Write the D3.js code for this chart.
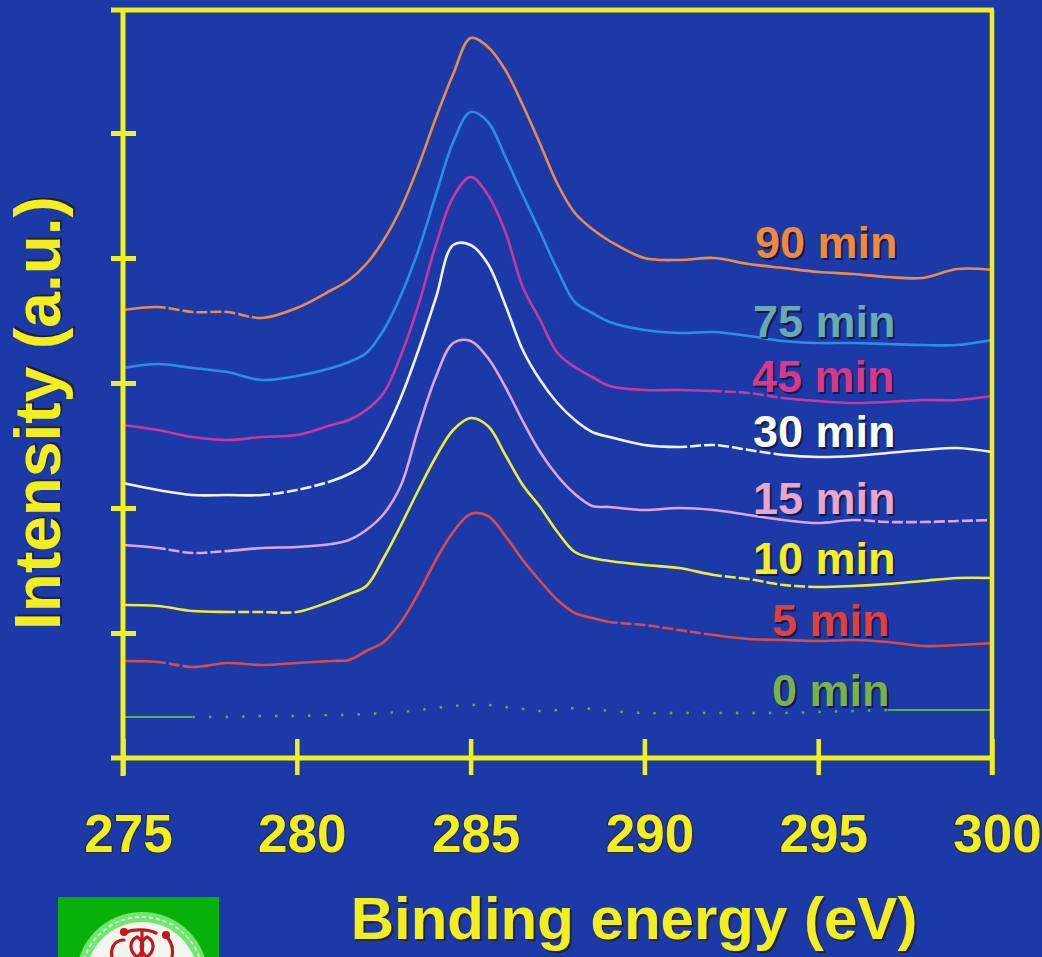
<!DOCTYPE html>
<html>
<head>
<meta charset="utf-8">
<script src="https://cdn.jsdelivr.net/npm/d3@7/dist/d3.min.js"></script>
<style>
  html, body { margin: 0; padding: 0; background: #1b3aa8; }
  svg { display: block; }
  text { font-family: "Liberation Sans", Arial, Helvetica, sans-serif; font-weight: bold; }
</style>
</head>
<body>
<svg id="chart" width="1042" height="957"></svg>
<script>
// C 1s spectra recorded after increasing treatment times (intensity in arbitrary units, stacked)
const energy = [275, 276, 277, 278, 279, 280, 281, 281.5, 282, 282.5, 283, 283.5, 284, 284.5,
  285, 285.5, 286, 286.5, 287, 287.5, 288, 288.5, 289, 290, 291, 292, 293, 294, 295, 296,
  297, 298, 299, 300];

const int0  = [41, 41, 41, 41, 42, 42, 43, 43, 44, 45, 46, 48, 50, 52, 53, 53, 51, 49, 47, 48,
  50, 49, 47, 45, 45, 45, 45, 45, 46, 47, 48, 48, 48, 48];
const int5  = [97, 96, 91, 95, 93, 95, 97, 98, 107, 116, 136, 165, 198, 226, 244, 242, 222, 198,
  177, 158, 145, 140, 136, 133, 128, 123, 119, 118, 117, 118, 116, 112, 113, 115];
const int10 = [153, 152, 147, 146, 146, 146, 157, 164, 172, 200, 233, 268, 301, 328, 340, 332,
  303, 273, 251, 226, 206, 200, 197, 193, 190, 183, 179, 173, 171, 172, 174, 177, 180, 180];
const int15 = [213, 210, 205, 207, 210, 211, 214, 218, 228, 244, 273, 330, 381, 415, 417, 400,
  371, 337, 306, 282, 264, 252, 251, 248, 250, 248, 243, 238, 235, 238, 236, 236, 237, 238];
const int30 = [275, 268, 263, 263, 263, 268, 277, 284, 295, 323, 361, 408, 460, 513, 513, 494,
  453, 408, 378, 355, 338, 326, 321, 313, 311, 313, 308, 303, 301, 302, 305, 308, 310, 306];
const int45 = [333, 328, 321, 318, 321, 323, 333, 338, 348, 365, 403, 453, 513, 561, 581, 563,
  526, 471, 438, 405, 391, 381, 372, 368, 368, 367, 365, 360, 357, 355, 356, 358, 358, 362];
const int75 = [390, 394, 390, 386, 378, 382, 390, 396, 405, 428, 463, 508, 563, 616, 646, 636,
  601, 563, 526, 488, 456, 445, 436, 428, 425, 426, 422, 417, 415, 415, 414, 413, 413, 418];
const int90 = [448, 451, 446, 446, 440, 450, 468, 478, 494, 518, 550, 592, 640, 684, 720, 711,
  688, 653, 614, 574, 545, 529, 517, 500, 498, 500, 494, 490, 486, 484, 481, 480, 489, 488];

const seriesNames = ["0 min", "5 min", "10 min", "15 min", "30 min", "45 min", "75 min", "90 min"];
const seriesValues = [int0, int5, int10, int15, int30, int45, int75, int90];

const xTicks = [275, 280, 285, 290, 295, 300];
const yTicks = [125, 250, 375, 500, 625];

// styling per series
const lineColors  = ["#5fae45", "#d84a4c", "#eeec3a", "#e2a2dc", "#f2f2fa", "#c9389e", "#2a8fe2", "#e98a4e"];
const labelColors = ["#7ab24a", "#e0403f", "#f4ef22", "#e8a6cc", "#ffffff", "#d6388c", "#6aa8b2", "#f08a3a"];
// label anchor: [left x, baseline y]
const labelPos = [[772, 706], [772, 636], [753, 574], [753, 514], [753, 447], [752, 392], [753, 337], [755, 258]];
// energy spans where a trace is drawn broken (short gaps)
const brokenSpans = [[], [[276, 277], [289, 292]], [[278, 280], [292, 295]], [[276, 278], [296, 300]],
  [[279, 281], [291, 294]], [[292, 294]], [], [[276, 279]]];

const BG = "#1b3aa8";
const YELLOW = "#f3ee1e";
const svg = d3.select("#chart");

const x = d3.scaleLinear().domain([275, 300]).range([123, 992]);
const y = d3.scaleLinear().domain([0, 748]).range([758, 10]);

// background
svg.append("rect").attr("width", 1042).attr("height", 957).attr("fill", BG);

// curves
const lineXY = d3.line()
  .x(d => x(d[0]))
  .y(d => y(d[1]))
  .curve(d3.curveCatmullRom.alpha(0.5));

const curves = svg.append("g").attr("fill", "none").attr("stroke-width", 2.6)
  .attr("stroke-linejoin", "round");

seriesValues.forEach((vals, k) => {
  const pts = vals.map((v, i) => [energy[i], v]);
  if (k === 0) {
    // the 0 min trace: solid at both ends, dotted through the middle
    const left = pts.filter(d => d[0] <= 277);
    const mid = pts.filter(d => d[0] >= 277 && d[0] <= 297);
    const right = pts.filter(d => d[0] >= 297);
    curves.append("path").attr("d", lineXY(left)).attr("stroke", lineColors[0]).attr("stroke-width", 2);
    curves.append("path").attr("d", lineXY(mid)).attr("stroke", lineColors[0]).attr("stroke-width", 2.4)
      .attr("stroke-dasharray", "2.5,14");
    curves.append("path").attr("d", lineXY(right)).attr("stroke", lineColors[0]).attr("stroke-width", 2);
  } else {
    curves.append("path").attr("d", lineXY(pts)).attr("stroke", lineColors[k]);
    // small gaps cut into the trace over its broken spans
    brokenSpans[k].forEach(([a, b]) => {
      const seg = pts.filter(d => d[0] >= a && d[0] <= b);
      curves.append("path").attr("d", lineXY(seg)).attr("stroke", BG).attr("stroke-width", 4)
        .attr("stroke-dasharray", "3,11").attr("stroke-dashoffset", -8);
    });
  }
});

// frame and axes
const frame = svg.append("g").attr("stroke", YELLOW).attr("stroke-linecap", "butt");
frame.append("line").attr("x1", 111).attr("x2", x(300) + 2).attr("y1", y(748)).attr("y2", y(748)).attr("stroke-width", 5);
frame.append("line").attr("x1", x(300)).attr("x2", x(300)).attr("y1", y(748)).attr("y2", 775).attr("stroke-width", 4.5);
frame.append("line").attr("x1", x(275)).attr("x2", x(275)).attr("y1", y(748) - 2).attr("y2", 776).attr("stroke-width", 5);
frame.append("line").attr("x1", 111).attr("x2", x(300)).attr("y1", y(0)).attr("y2", y(0)).attr("stroke-width", 5);

const xAxis = svg.append("g").attr("transform", `translate(0,${y(0)})`)
  .call(d3.axisBottom(x).tickValues(xTicks).tickSize(17).tickFormat(d3.format("d")));
xAxis.select(".domain").remove();
xAxis.selectAll(".tick line").attr("y1", -19).attr("stroke", YELLOW).attr("stroke-width", 4.5);
xAxis.selectAll(".tick text")
  .attr("y", 94).attr("dy", 0).attr("x", 5)
  .attr("fill", YELLOW).attr("font-size", 53)
  .style("paint-order", "stroke").attr("stroke", "rgba(40,30,20,0.55)").attr("stroke-width", 2.5);

const yAxis = svg.append("g").attr("transform", `translate(${x(275)},0)`)
  .call(d3.axisLeft(y).tickValues(yTicks).tickSize(12).tickFormat(""));
yAxis.select(".domain").remove();
yAxis.selectAll(".tick line").attr("x2", 13).attr("x1", -12).attr("stroke", YELLOW).attr("stroke-width", 5);

// series labels with a soft drop shadow
const labels = svg.append("g").attr("font-size", 45);
seriesNames.forEach((name, k) => {
  const [lx, ly] = labelPos[k];
  labels.append("text").attr("x", lx + 2).attr("y", ly + 2).attr("fill", "rgba(15,15,45,0.75)").text(name);
  labels.append("text").attr("x", lx).attr("y", ly).attr("fill", labelColors[k]).text(name);
});

// axis titles
function shadowText(g, txt, attrs) {
  const s = g.append("text").text(txt).attr("fill", "rgba(35,25,15,0.7)");
  const t = g.append("text").text(txt).attr("fill", YELLOW);
  Object.entries(attrs).forEach(([k, v]) => { s.attr(k, v); t.attr(k, v); });
  s.attr("dx", 2).attr("dy", 2);
  return t;
}
shadowText(svg.append("g"), "Binding energy (eV)", {
  x: 634, y: 939, "text-anchor": "middle", "font-size": 60
});
shadowText(svg.append("g").attr("transform", "translate(60,413) rotate(-90)"), "Intensity (a.u.)", {
  x: 0, y: 0, "text-anchor": "middle", "font-size": 64
});

// institute emblem, bottom left
const logo = svg.append("g");
logo.append("rect").attr("x", 58).attr("y", 897).attr("width", 161).attr("height", 70).attr("fill", "#07b10a");
logo.append("circle").attr("cx", 142).attr("cy", 978).attr("r", 66).attr("fill", "#6fe66f");
logo.append("circle").attr("cx", 142).attr("cy", 978).attr("r", 56).attr("fill", "#f3f6ee");
logo.append("circle").attr("cx", 142).attr("cy", 978).attr("r", 61).attr("fill", "none")
  .attr("stroke", "#d8f8d0").attr("stroke-width", 2).attr("stroke-dasharray", "4,3");
const emblem = logo.append("g").attr("fill", "none").attr("stroke", "#c0181c").attr("stroke-width", 3.2)
  .attr("stroke-linecap", "round");
emblem.append("path").attr("d", "M126,932 C134,929 148,929 156,933");
emblem.append("path").attr("d", "M137,957 C128,950 130,940 137,937 C143,940 146,950 137,957");
emblem.append("path").attr("d", "M147,957 C156,950 154,940 147,937 C141,940 138,950 147,957");
emblem.append("path").attr("d", "M112,957 C110,946 116,940 124,940");
emblem.append("path").attr("d", "M172,957 C174,946 170,940 166,936");
emblem.append("path").attr("d", "M142,931 L142,957");
emblem.append("circle").attr("cx", 124).attr("cy", 932).attr("r", 2.5).attr("fill", "#c0181c");
emblem.append("circle").attr("cx", 166).attr("cy", 935).attr("r", 2.5).attr("fill", "#c0181c");
</script>
</body>
</html>
